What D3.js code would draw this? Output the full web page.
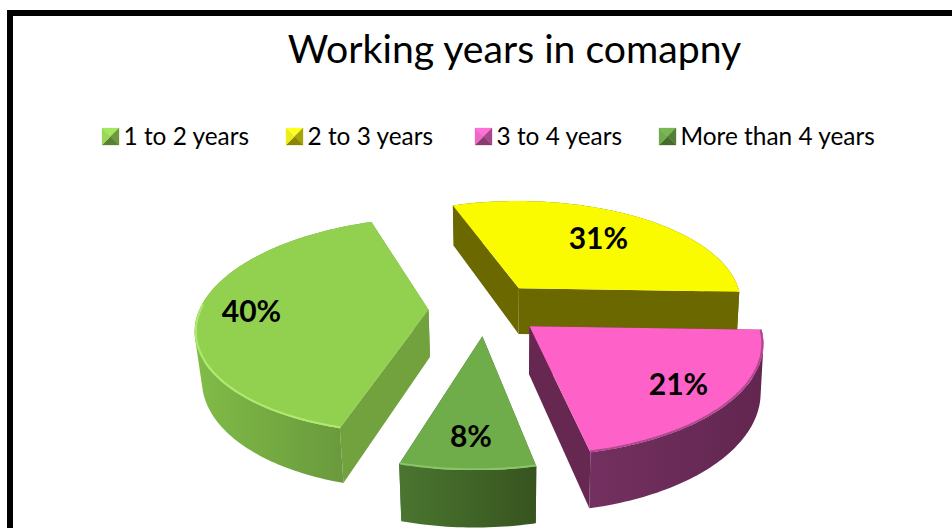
<!DOCTYPE html>
<html><head><meta charset="utf-8">
<script src="https://cdn.jsdelivr.net/npm/d3@7/dist/d3.min.js"></script>
<style>html,body{margin:0;padding:0;background:#fff}svg{display:block}text{font-family:Lato,sans-serif}</style>
</head><body><svg id="c" width="952" height="528"></svg>
<script>
const titleText = "Working years in comapny";
const categories = ["1 to 2 years","2 to 3 years","3 to 4 years","More than 4 years"];
const values = [40,31,21,8];
const labels = ["40%","31%","21%","8%"];
const topColors = ["#92d050","#fbfb00","#fe62c8","#6fac4a"];
const wallColors = ["#72a23e","#6b6800","#662850","#44692c"];
const rimStart = ["#80ba47","#6b6800","#733060","#4a7530"];
const rimEnd = ["#64923a","#6b6800","#622650","#37541f"];
const bevelColors = ["#aeea6e","#fbfb00","#b04a90","#8cc46a"];
const markerLight = ["#a4e860","#ffff20","#ff70d8","#78b850"];
const markerDark = ["#5a8034","#8a8600","#8a3a70","#466a2c"];
const labelRadius = [0.77,0.66,0.77,0.78];
const legendX = [102,286,475,659];

// Perspective projection of the pie plane
const P = {cx:485.5, cy:309, A:227, B:105.5, p:0.145, shear:-12, tilt:3.5, H:47, convL:0.975, convR:0.99, explode:0.25};
function project(U,V,down){
  const w = 1 - P.p*V;
  const x = (P.A*U + P.shear*V)/w;
  const y = (P.B*V + P.tilt*U)/w;
  if(!down) return [P.cx+x, P.cy+y];
  return [P.cx+x*(x<0?P.convL:P.convR), P.cy+y+P.H/w];
}
function pt(r,t,m,down){
  const U = P.explode*Math.sin(m) + r*Math.sin(t);
  const V = -P.explode*Math.cos(m) - r*Math.cos(t);
  return project(U,V,down);
}
const a0 = 194.4*Math.PI/180;
const arcs = d3.pie().sort(null).startAngle(a0).endAngle(a0+2*Math.PI)(values);
const svg = d3.select("#c");
const defs = svg.append("defs");
const line = d3.line();
const closed = pts => line(pts)+"Z";

// frame
svg.append("rect").attr("x",7).attr("y",10).attr("width",1000).attr("height",6).attr("fill","#000");
svg.append("rect").attr("x",7).attr("y",10).attr("width",6).attr("height",518).attr("fill","#000");

svg.append("text").attr("x",514.5).attr("y",63).attr("text-anchor","middle")
  .attr("font-size",39.2).attr("fill","#000").text(titleText);

// legend
categories.forEach((c,i)=>{
  const x=legendX[i], y=128, s=17;
  const g=svg.append("g");
  const q=[[x,y],[x+s,y],[x+s,y+s],[x,y+s]];
  const mid=[x+s/2,y+s/2];
  const mix=d3.interpolateRgb(markerLight[i],markerDark[i]);
  [[0,1,0],[1,2,0.75],[2,3,1],[3,0,0.15]].forEach(([a,b,f])=>{
    g.append("path").attr("d",closed([q[a],q[b],mid])).attr("fill",mix(f)).attr("stroke",mix(f)).attr("stroke-width",0.3);
  });
  svg.append("text").attr("x",x+21.5).attr("y",145).attr("font-size",24.4).attr("fill","#000").text(c);
});

defs.append("filter").attr("id","soft").append("feGaussianBlur").attr("stdDeviation",0.7);

const order=[1,0,3,2];
order.forEach(i=>{
  const d=arcs[i], m=(d.startAngle+d.endAngle)/2;
  const n=Math.ceil((d.endAngle-d.startAngle)/0.02);
  const ts=d3.range(n+1).map(k=>d.startAngle+(d.endAngle-d.startAngle)*k/n);
  const topArc=ts.map(t=>pt(1,t,m,false));
  const botArc=ts.map(t=>pt(1,t,m,true));
  const frontArc=ts.filter(t=>Math.cos(t)<0.02).map(t=>pt(0.995,t,m,false));
  const g=svg.append("g");
  [d.startAngle,d.endAngle].forEach(a=>{
    g.append("path").attr("d",closed([pt(0,0,m,false),pt(1,a,m,false),pt(1,a,m,true),pt(0,0,m,true)])).attr("fill",wallColors[i]);
  });
  const gid="rim"+i;
  const xs=botArc.map(p=>p[0]);
  const lg=defs.append("linearGradient").attr("id",gid).attr("gradientUnits","userSpaceOnUse")
    .attr("x1",d3.min(xs)).attr("x2",d3.max(xs)).attr("y1",0).attr("y2",0);
  lg.append("stop").attr("offset",0).attr("stop-color",rimStart[i]);
  lg.append("stop").attr("offset",1).attr("stop-color",rimEnd[i]);
  // rim as consistently wound quads, so the silhouette stays filled where the arcs cross
  const rimPath=d3.range(n).map(k=>{
    const q=[topArc[k],topArc[k+1],botArc[k+1],botArc[k]];
    return closed(d3.polygonArea(q)<0?q.slice().reverse():q);
  }).join("");
  g.append("path").attr("d",rimPath).attr("fill","url(#"+gid+")");
  g.append("path").attr("d",closed([pt(0,0,m,false)].concat(topArc))).attr("fill",topColors[i]);
  if(frontArc.length>1) g.append("path").attr("d",line(frontArc)).attr("fill","none").attr("stroke",bevelColors[i])
    .attr("stroke-width",2).attr("filter","url(#soft)");
});

arcs.forEach((d,i)=>{
  const m=(d.startAngle+d.endAngle)/2;
  const p=pt(labelRadius[i],m,m,false);
  svg.append("text").attr("x",p[0]).attr("y",p[1]+10).attr("text-anchor","middle")
    .attr("font-size",30).attr("font-weight",700).attr("fill","#000").text(labels[i]);
});
</script></body></html>
